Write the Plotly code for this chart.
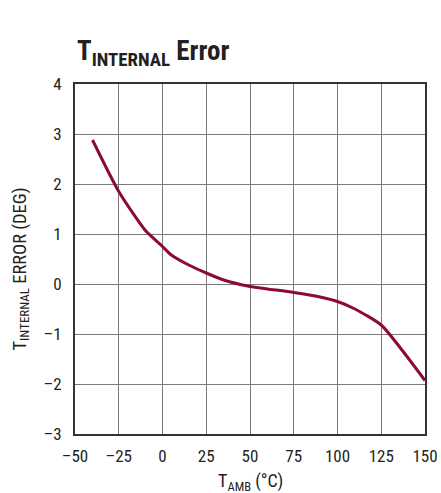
import plotly.graph_objects as go

temp_c = [-40, -25, -10, 0, 5, 15, 25, 35, 50, 60, 75, 90, 100, 110, 125, 137.5, 150]
error_deg = [2.88, 1.85, 1.08, 0.75, 0.58, 0.38, 0.22, 0.08, -0.05, -0.10, -0.17, -0.26, -0.35, -0.50, -0.82, -1.35, -1.93]

x_ticks = [-50, -25, 0, 25, 50, 75, 100, 125, 150]
x_ticktext = ["–50", "–25", "0", "25", "50", "75", "100", "125", "150"]
y_ticks = [-3, -2, -1, 0, 1, 2, 3, 4]
y_ticktext = ["–3", "–2", "–1", "0", "1", "2", "3", "4"]

FONT = "Liberation Sans Narrow, Arial Narrow, Roboto Condensed, Liberation Sans, sans-serif"
TXT = "#231F20"

fig = go.Figure()
fig.add_trace(go.Scatter(
    x=temp_c, y=error_deg, mode="lines",
    line=dict(color="#8C0B31", width=3, shape="spline", smoothing=0.6),
    showlegend=False, hoverinfo="skip",
))

fig.update_layout(
    width=441, height=493,
    margin=dict(l=75, r=16, t=84, b=59),
    paper_bgcolor="white", plot_bgcolor="white",
    font=dict(family=FONT, size=17, color=TXT),
    annotations=[
        dict(text="<b>T<sub>INTERNAL</sub> Error</b>",
             x=0, xref="paper", xanchor="left",
             y=1, yref="paper", yanchor="bottom", yshift=11,
             showarrow=False, font=dict(family=FONT, size=27, color=TXT)),
        dict(text="T<sub>AMB</sub> (°C)",
             x=0.5, xref="paper", xanchor="center",
             y=-0.137, yref="paper", yanchor="middle",
             showarrow=False, font=dict(family=FONT, size=18, color=TXT)),
        dict(text="T<sub>INTERNAL</sub> ERROR (DEG)",
             x=-0.157, xref="paper", xanchor="center",
             y=0.47, yref="paper", yanchor="middle", textangle=-90,
             showarrow=False, font=dict(family=FONT, size=18.5, color=TXT)),
    ],
)
fig.update_xaxes(
    range=[-50, 150], tickvals=x_ticks, ticktext=x_ticktext,
    showgrid=True, gridcolor="#7a7a7a", gridwidth=1,
    showline=True, linecolor="#333333", linewidth=2, mirror=True,
    zeroline=False, ticks="", ticklabelstandoff=6, automargin=False,
)
fig.update_yaxes(
    range=[-3, 4], tickvals=y_ticks, ticktext=y_ticktext,
    showgrid=True, gridcolor="#7a7a7a", gridwidth=1,
    showline=True, linecolor="#333333", linewidth=2, mirror=True,
    zeroline=False, ticks="", ticklabelstandoff=8, automargin=False,
)

fig.write_html(
    "out.html",
    config={"displayModeBar": False},
    post_script="document.body.style.margin='0px';document.body.style.overflow='hidden';",
)
